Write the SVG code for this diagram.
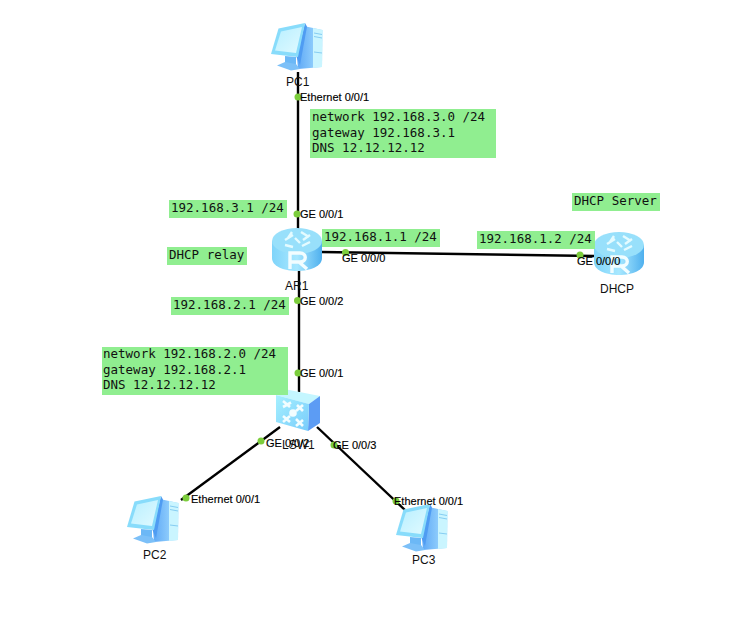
<svg xmlns="http://www.w3.org/2000/svg" width="734" height="617" viewBox="0 0 734 617">
<style>
.bg{fill:#fff}
.note{fill:#90ee90}
.mono{font:12.5px "DejaVu Sans Mono","Liberation Mono",monospace;fill:#111}
.lab{font:11px "Liberation Sans",Arial,sans-serif;fill:#000;stroke:#000;stroke-width:.15}
.name{font:12px "Liberation Sans",Arial,sans-serif;fill:#111}
.link{stroke:#000;stroke-width:2.4;fill:none}
.dot{fill:#7ccd3c}
</style>
<defs>
<linearGradient id="scr" x1="0" y1="0" x2="1" y2="1"><stop offset="0" stop-color="#b8efff"/><stop offset="1" stop-color="#e0faff"/></linearGradient>
<linearGradient id="side" x1="0" y1="0" x2="1" y2="0"><stop offset="0" stop-color="#5ea8f6"/><stop offset="1" stop-color="#a8e0ff"/></linearGradient>
<linearGradient id="rt" x1="0" y1="0" x2="1" y2="0"><stop offset="0" stop-color="#7fd4fa"/><stop offset=".5" stop-color="#a8e8ff"/><stop offset="1" stop-color="#4fb0ee"/></linearGradient>
<linearGradient id="sw" x1="0" y1="0" x2="1" y2="1"><stop offset="0" stop-color="#a6f0ff"/><stop offset="1" stop-color="#78ccfb"/></linearGradient>
<g id="pcIcon">
<path d="M34 4.500L50.500 8L50 45L26 47L25 35Z" fill="url(#side)"/>
<path d="M41 6L50.500 8L50 45L41 46Z" fill="#caf5ff"/>
<path d="M42 11L50 12.500M42 14.500L50 16M42 30L50 31" stroke="#86cdf2" stroke-width="1" fill="none"/>
<path d="M33 1L35 4.500L28 43L24.500 35Z" fill="#4f9cf2"/>
<path d="M6.500 6.500L33 1L26 35L-1 32Z" fill="#88dcfb"/>
<path d="M9 9.500L30 5L24 31L3 28.500Z" fill="url(#scr)"/>
<path d="M13 34L24 35L24 43L13 42Z" fill="#6cb8f6"/>
<path d="M5 43.500L13 40L24 42L28 47L19 48.500Z" fill="#7cc0f8"/>
</g>
<g id="routerIcon">
<path d="M0 13V30C0 38 11 43 25 43S50 38 50 30V13Z" fill="url(#rt)"/>
<ellipse cx="25" cy="13" rx="25" ry="13" fill="#98e0fb"/>
<path d="M13 12L21 7M20 4L16 10M29 4L37 9M31 12L38 7M13 17L21 19M30 18L38 14M23 10L28 15" stroke="#e4fbff" stroke-width="2.400" fill="none"/>
<path d="M18 41V25H28C35 25 35 34 28 34H18M27 34L35 41" stroke="#f2fdff" stroke-width="3.400" fill="none"/>
</g>
</defs>
<rect class="bg" width="734" height="617"/>
<g id="connectors">
<path class="link" d="M298 72V230"/>
<path class="link" d="M321 252L594 256"/>
<path class="link" d="M299 270V392"/>
<path class="link" d="M280 427L181 500"/>
<path class="link" d="M317 427L405 510"/>
</g>
<g id="PC1"><use href="#pcIcon" x="272" y="22"/><text class="name" x="286" y="86">PC1</text></g>
<g id="AR1"><use href="#routerIcon" x="272" y="228"/><text class="name" x="285" y="290">AR1</text></g>
<g id="DHCP"><use href="#routerIcon" x="594" y="232"/><text class="name" x="600" y="293">DHCP</text></g>
<g id="LSW1">
<path d="M276 395L284 389L320 396L309 404Z" fill="#c4f6ff"/>
<path d="M309 404L320 396L320 423L308 431Z" fill="#5c9cf4"/>
<path d="M276 395L309 404L308 431L276 422Z" fill="url(#sw)"/>
<path d="M283 401L290 407M283 407L291 402.500M303 405L296 411M303 411L297 405M283 422L290 416M283 416L290 422M303 426L296 419M296 426L303 420" stroke="#f2fdff" stroke-width="2.600" fill="none"/>
<circle cx="293" cy="413" r="3.800" fill="#f2fdff"/>
<text class="name" x="282" y="449">LSW1</text>
</g>
<g id="PC2"><use href="#pcIcon" x="128" y="495"/><text class="name" x="143" y="559">PC2</text></g>
<g id="PC3"><use href="#pcIcon" x="397" y="503"/><text class="name" x="412" y="564">PC3</text></g>
<g id="ports">
<circle class="dot" cx="298" cy="97" r="3.500"/><text class="lab" x="300" y="101">Ethernet 0/0/1</text>
<circle class="dot" cx="297" cy="214" r="3.500"/><text class="lab" x="300" y="218">GE 0/0/1</text>
<circle class="dot" cx="345.500" cy="252.500" r="3.500"/><text class="lab" x="342" y="262">GE 0/0/0</text>
<circle class="dot" cx="297.500" cy="300.500" r="3.500"/><text class="lab" x="300" y="305">GE 0/0/2</text>
<circle class="dot" cx="580" cy="255" r="3.500"/><text class="lab" x="577" y="265">GE 0/0/0</text>
<circle class="dot" cx="298" cy="373" r="3.500"/><text class="lab" x="300" y="377">GE 0/0/1</text>
<circle class="dot" cx="261" cy="441" r="3.500"/><text class="lab" x="266" y="447">GE 0/0/2</text>
<circle class="dot" cx="334" cy="445" r="3.500"/><text class="lab" x="333" y="449">GE 0/0/3</text>
<circle class="dot" cx="186" cy="498" r="3.500"/><text class="lab" x="191" y="503">Ethernet 0/0/1</text>
<circle class="dot" cx="396" cy="501" r="3.500"/><text class="lab" x="394" y="505">Ethernet 0/0/1</text>
</g>
<g id="note-vlan3"><rect class="note" x="310" y="109" width="186" height="49"/><text class="mono" x="312" y="121">network 192.168.3.0 /24</text><text class="mono" x="312" y="137">gateway 192.168.3.1</text><text class="mono" x="312" y="152">DNS 12.12.12.12</text></g>
<g id="note-ar1-g1"><rect class="note" x="169" y="200" width="118" height="18"/><text class="mono" x="171" y="212">192.168.3.1 /24</text></g>
<g id="note-ar1-g0"><rect class="note" x="322" y="229" width="118" height="18"/><text class="mono" x="324" y="241">192.168.1.1 /24</text></g>
<g id="note-relay"><rect class="note" x="167" y="247" width="80" height="18"/><text class="mono" x="169" y="259">DHCP relay</text></g>
<g id="note-ar1-g2"><rect class="note" x="171" y="297" width="118" height="18"/><text class="mono" x="173" y="309">192.168.2.1 /24</text></g>
<g id="note-server"><rect class="note" x="572" y="193" width="88" height="18"/><text class="mono" x="574" y="205">DHCP Server</text></g>
<g id="note-dhcp-g0"><rect class="note" x="477" y="231" width="118" height="18"/><text class="mono" x="479" y="243">192.168.1.2 /24</text></g>
<g id="note-vlan2"><rect class="note" x="102" y="347" width="186" height="48"/><text class="mono" x="103" y="358">network 192.168.2.0 /24</text><text class="mono" x="103" y="374">gateway 192.168.2.1</text><text class="mono" x="103" y="389">DNS 12.12.12.12</text></g>
</svg>
